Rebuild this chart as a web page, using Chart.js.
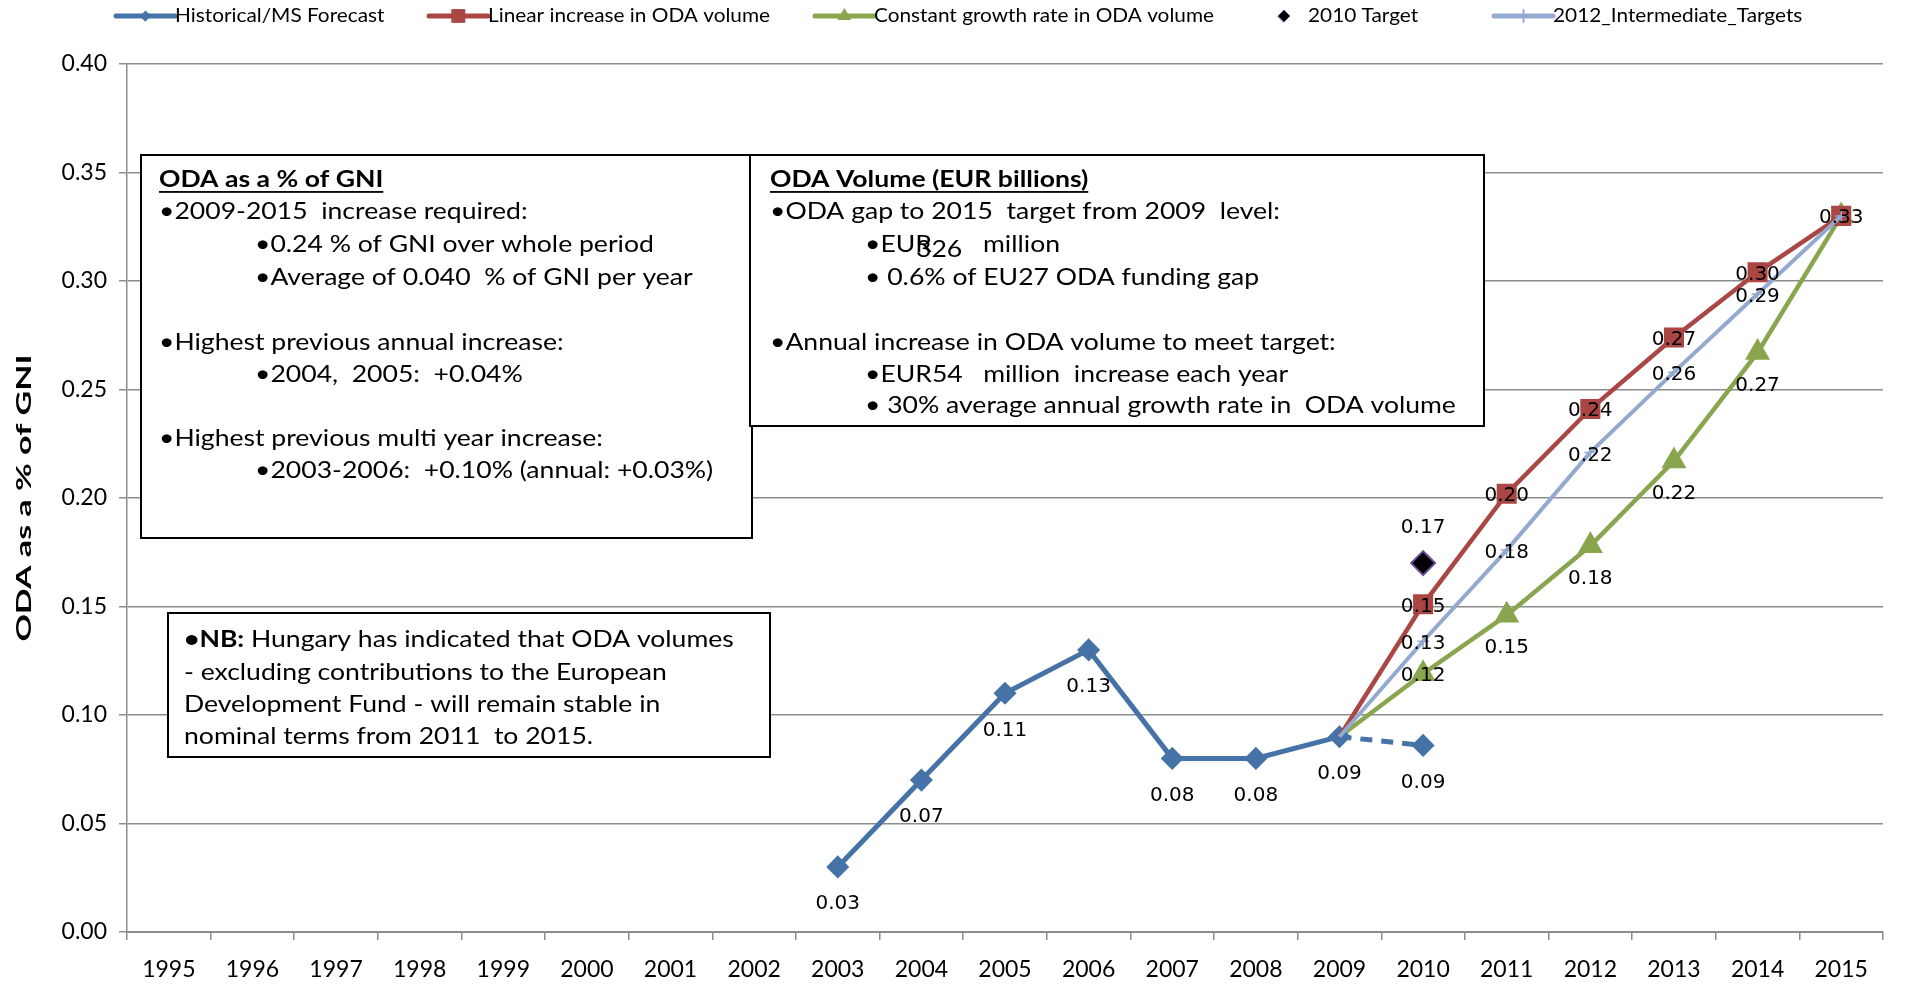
<!DOCTYPE html>
<html>
<head>
<meta charset="utf-8">
<script src="https://cdn.jsdelivr.net/npm/chart.js@4.4.1/dist/chart.umd.min.js"></script>
<style>
  html, body { margin: 0; padding: 0; background: #fff; }
  canvas { display: block; }
</style>
</head>
<body>
<canvas id="odaChart" width="1923" height="986"></canvas>
<script>
/* ODA as % of GNI - Hungary */
var years = ['1995', '1996', '1997', '1998', '1999', '2000', '2001', '2002', '2003', '2004', '2005',
             '2006', '2007', '2008', '2009', '2010', '2011', '2012', '2013', '2014', '2015'];
var historical = [null, null, null, null, null, null, null, null, 0.03, 0.07, 0.11,
                  0.13, 0.08, 0.08, 0.09, 0.086, null, null, null, null, null];
var linearIncrease = [null, null, null, null, null, null, null, null, null, null, null,
                      null, null, null, 0.09, 0.151, 0.202, 0.241, 0.274, 0.304, 0.33];
var constantGrowth = [null, null, null, null, null, null, null, null, null, null, null,
                      null, null, null, 0.09, 0.119, 0.146, 0.178, 0.217, 0.267, 0.33];
var target2010 = [null, null, null, null, null, null, null, null, null, null, null,
                  null, null, null, null, 0.17, null, null, null, null, null];
var intermediate2012 = [null, null, null, null, null, null, null, null, null, null, null,
                        null, null, null, 0.09, 0.134, 0.176, 0.221, 0.258, 0.294, 0.33];
var yTicks = [0, 0.05, 0.10, 0.15, 0.20, 0.25, 0.30, 0.35, 0.40];

var BLUE = '#4572A7', RED = '#AA4643', GREEN = '#89A54E', LIGHT = '#93A9CF';
var BOX_FONT = 'Lato, "Open Sans", sans-serif';
var NONE = 'rgba(0,0,0,0)';

// draw text a bit stretched sideways, like the original
function wideText(ctx, t, x, y, sx) {
    ctx.save();
    ctx.translate(x, y);
    ctx.scale(sx, 1);
    ctx.fillText(t, 0, 0);
    ctx.restore();
    return ctx.measureText(t).width * sx;
}

// text boxes drawn over the grid
var boxPlugin = {
    id: 'textBoxes',
    beforeDatasetsDraw: function (chart, args, opts) {
        var ctx = chart.ctx;
        opts.boxes.forEach(function (b) {
            ctx.save();
            ctx.fillStyle = '#fff';
            ctx.fillRect(b.x, b.y, b.w, b.h);
            ctx.strokeStyle = '#000';
            ctx.lineWidth = 2;
            ctx.strokeRect(b.x, b.y, b.w, b.h);
            ctx.fillStyle = '#000';
            ctx.textBaseline = 'middle';
            ctx.textAlign = 'left';
            b.lines.forEach(function (l) {
                var x = l.x;
                l.parts.forEach(function (p) {
                    ctx.font = (p.bold ? 'bold ' : '') + b.size + 'px ' + BOX_FONT;
                    if (p.x !== undefined) x = p.x;
                    var yy = l.y + (p.dy || 0);
                    var w = wideText(ctx, p.t, x, yy, opts.sx);
                    if (p.u) ctx.fillRect(x, yy + b.size * 0.48, w, 1.8);
                    x += w;
                });
            });
            ctx.restore();
        });
    }
};

// value labels next to the points
var labelPlugin = {
    id: 'valueLabels',
    afterDatasetsDraw: function (chart) {
        var ctx = chart.ctx;
        ctx.save();
        ctx.font = '20px "DejaVu Sans", sans-serif';
        ctx.fillStyle = '#000';
        ctx.textAlign = 'center';
        ctx.textBaseline = 'middle';
        chart.data.datasets.forEach(function (ds, di) {
            if (ds.labelFrom === undefined) return;
            var meta = chart.getDatasetMeta(di);
            meta.data.forEach(function (pt, i) {
                var v = ds.data[i];
                if (v == null || i < ds.labelFrom || i > ds.labelTo) return;
                var dy = typeof ds.labelDy === 'function' ? ds.labelDy(i) : ds.labelDy;
                ctx.fillText(v.toFixed(2), pt.x, pt.y + dy);
            });
        });
        ctx.restore();
    }
};

// legend with line + marker, and the rotated y title
var legendPlugin = {
    id: 'lineLegend',
    afterDraw: function (chart, args, opts) {
        var ctx = chart.ctx;
        var y = opts.y;
        ctx.save();
        ctx.font = opts.size + 'px ' + BOX_FONT;
        ctx.textBaseline = 'middle';
        ctx.textAlign = 'left';
        chart.data.datasets.forEach(function (ds, i) {
            var x = opts.x[i];
            var mx;
            if (ds.showLine === false) {
                mx = x + 22;
            } else {
                ctx.strokeStyle = ds.borderColor;
                ctx.lineWidth = 5;
                ctx.lineCap = 'round';
                ctx.beginPath();
                ctx.moveTo(x, y);
                ctx.lineTo(x + opts.lineLen, y);
                ctx.stroke();
                mx = x + opts.lineLen / 2;
            }
            ctx.fillStyle = ds.legendFill || ds.borderColor;
            ctx.strokeStyle = ds.legendStroke || ds.borderColor;
            ctx.lineWidth = ds.pointStyle === 'cross' ? 2 : 1;
            Chart.helpers.drawPoint(ctx, {
                pointStyle: ds.pointStyle,
                radius: ds.legendRadius,
                rotation: 0,
                borderWidth: ctx.lineWidth
            }, mx, y);
            ctx.fillStyle = '#000';
            wideText(ctx, ds.label, ds.showLine === false ? x + 46 : x + opts.lineLen, y, opts.sx);
        });

        // y axis title
        var area = chart.chartArea;
        ctx.save();
        ctx.translate(opts.titleX, (area.top + area.bottom) / 2);
        ctx.rotate(-Math.PI / 2);
        ctx.font = 'bold 21px ' + BOX_FONT;
        ctx.textAlign = 'center';
        ctx.scale(1.62, 1);
        ctx.fillText(opts.yTitle, 0, 0);
        ctx.restore();
        ctx.restore();
    }
};

var ctx = document.getElementById('odaChart').getContext('2d');
var odaChart = new Chart(ctx, {
    type: 'line',
    data: {
        labels: years,
        datasets: [{
            label: 'Historical/MS Forecast',
            data: historical,
            borderColor: BLUE,
            backgroundColor: BLUE,
            pointBackgroundColor: BLUE,
            pointBorderColor: BLUE,
            borderWidth: 5,
            pointStyle: 'rectRot',
            pointRadius: 8,
            legendRadius: 5,
            segment: {
                borderDash: function (c) { return c.p1DataIndex === 15 ? [12, 9] : undefined; }
            },
            labelFrom: 8, labelTo: 15, labelDy: 37,
            order: 4
        }, {
            label: 'Linear increase in ODA volume',
            data: linearIncrease,
            borderColor: RED,
            backgroundColor: RED,
            pointBackgroundColor: function (c) { return c.dataIndex === 14 ? NONE : RED; },
            pointBorderColor: function (c) { return c.dataIndex === 14 ? NONE : RED; },
            borderWidth: 4.5,
            pointStyle: 'rect',
            pointRadius: 11,
            legendRadius: 9,
            labelFrom: 15, labelTo: 20, labelDy: 2,
            order: 3
        }, {
            label: 'Constant growth rate in ODA volume',
            data: constantGrowth,
            borderColor: GREEN,
            backgroundColor: GREEN,
            pointBackgroundColor: function (c) { return c.dataIndex === 14 ? NONE : GREEN; },
            pointBorderColor: function (c) { return c.dataIndex === 14 ? NONE : GREEN; },
            borderWidth: 4.5,
            pointStyle: 'triangle',
            pointRadius: 10,
            legendRadius: 7,
            labelFrom: 15, labelTo: 19,
            labelDy: function (i) { return i === 15 ? 2 : 33; },
            order: 5
        }, {
            label: '2010 Target',
            data: target2010,
            showLine: false,
            borderColor: '#000',
            backgroundColor: '#000',
            pointBackgroundColor: '#000',
            pointBorderColor: '#6b4c9a',
            legendFill: '#000',
            legendStroke: '#6b4c9a',
            pointBorderWidth: 2,
            pointStyle: 'rectRot',
            pointRadius: 12,
            legendRadius: 6,
            labelFrom: 15, labelTo: 15, labelDy: -35,
            order: 1
        }, {
            label: '2012_Intermediate_Targets',
            data: intermediate2012,
            borderColor: LIGHT,
            backgroundColor: LIGHT,
            pointBackgroundColor: LIGHT,
            pointBorderColor: function (c) { return c.dataIndex === 14 ? NONE : LIGHT; },
            pointBorderWidth: 1.5,
            borderWidth: 4,
            pointStyle: 'cross',
            pointRadius: 6,
            legendRadius: 6,
            labelFrom: 15, labelTo: 19, labelDy: 3,
            order: 2
        }]
    },
    options: {
        responsive: false,
        animation: false,
        devicePixelRatio: 1,
        spanGaps: false,
        layout: { padding: { top: 64, right: 40, left: 0, bottom: 0 } },
        elements: { line: { tension: 0 } },
        scales: {
            x: {
                type: 'category',
                offset: true,
                grid: { offset: true, drawOnChartArea: false, tickLength: 8, color: '#8c8c8c', lineWidth: 1.5 },
                border: { color: '#8c8c8c', width: 2 },
                ticks: {
                    font: { family: BOX_FONT, size: 23 },
                    color: '#000',
                    padding: 16,
                    maxRotation: 0,
                    autoSkip: false
                },
                afterFit: function (s) { s.height = 54; }
            },
            y: {
                min: 0,
                max: 0.4,
                afterBuildTicks: function (s) { s.ticks = yTicks.map(function (v) { return { value: v }; }); },
                ticks: {
                    font: { family: BOX_FONT, size: 23 },
                    color: '#000',
                    padding: 12,
                    callback: function (v) { return v.toFixed(2); }
                },
                grid: { color: '#8c8c8c', lineWidth: 1.5, tickLength: 8 },
                border: { color: '#8c8c8c', width: 1.5 },
                afterFit: function (s) { s.width = 127; }
            }
        },
        plugins: {
            legend: { display: false },
            tooltip: { enabled: false },
            lineLegend: { x: [116, 429, 815, 1262, 1494], lineLen: 59, y: 16, size: 20, sx: 1.04,
                          titleX: 24, yTitle: 'ODA as a % of GNI' },
            textBoxes: {
                sx: 1.155,
                boxes: [{
                    x: 141, y: 155, w: 611, h: 383, size: 23,
                    lines: [
                        { x: 159, y: 180, parts: [{ t: 'ODA as a % of GNI', bold: true, u: true }] },
                        { x: 159, y: 212, parts: [{ t: '•2009-2015  increase required:' }] },
                        { x: 255, y: 245, parts: [{ t: '•0.24 % of GNI over whole period' }] },
                        { x: 255, y: 278, parts: [{ t: '•Average of 0.040  % of GNI per year' }] },
                        { x: 159, y: 343, parts: [{ t: '•Highest previous annual increase:' }] },
                        { x: 255, y: 375, parts: [{ t: '•2004,  2005:  +0.04%' }] },
                        { x: 159, y: 439, parts: [{ t: '•Highest previous multi year increase:' }] },
                        { x: 255, y: 471, parts: [{ t: '•2003-2006:  +0.10% (annual: +0.03%)' }] }
                    ]
                }, {
                    x: 750, y: 155, w: 734, h: 271, size: 23,
                    lines: [
                        { x: 770, y: 180, parts: [{ t: 'ODA Volume (EUR billions)', bold: true, u: true }] },
                        { x: 770, y: 212, parts: [{ t: '•ODA gap to 2015  target from 2009  level:' }] },
                        { x: 865, y: 245, parts: [{ t: '•EUR' }, { t: '326', x: 916, dy: 5 }, { t: 'million', x: 983 }] },
                        { x: 865, y: 278, parts: [{ t: '• 0.6% of EU27 ODA funding gap' }] },
                        { x: 770, y: 343, parts: [{ t: '•Annual increase in ODA volume to meet target:' }] },
                        { x: 865, y: 375, parts: [{ t: '•EUR54   million  increase each year' }] },
                        { x: 865, y: 406, parts: [{ t: '• 30% average annual growth rate in  ODA volume' }] }
                    ]
                }, {
                    x: 168, y: 613, w: 602, h: 144, size: 23,
                    lines: [
                        { x: 184, y: 640, parts: [{ t: '•NB:', bold: true }, { t: ' Hungary has indicated that ODA volumes' }] },
                        { x: 184, y: 673, parts: [{ t: '- excluding contributions to the European' }] },
                        { x: 184, y: 705, parts: [{ t: 'Development Fund - will remain stable in' }] },
                        { x: 184, y: 737, parts: [{ t: 'nominal terms from 2011  to 2015.' }] }
                    ]
                }]
            }
        }
    },
    plugins: [boxPlugin, labelPlugin, legendPlugin]
});
</script>
</body>
</html>
